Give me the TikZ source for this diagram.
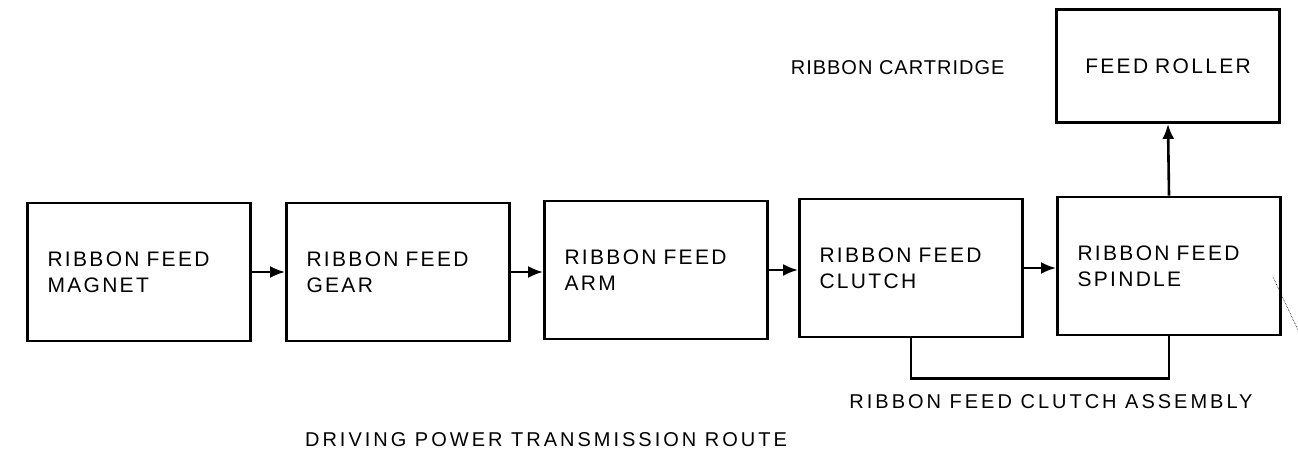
\documentclass[tikz,border=0pt]{standalone}
\usepackage{fontspec}
\setmainfont{Liberation Sans}
\newfontfamily\unitfont[LetterSpace=11]{Liberation Sans}
\newfontfamily\captionfont[LetterSpace=15]{Liberation Sans}
\newfontfamily\narrowfont[LetterSpace=5]{Liberation Sans}
\usetikzlibrary{arrows.meta}
\begin{document}
\begin{tikzpicture}[x=1pt,y=-1pt,
  unit/.style={draw,line width=2.8pt,minimum width=223pt,minimum height=138pt,
    text width=183pt,align=left,font=\unitfont\fontsize{21}{26}\selectfont},
  feed/.style={line width=2.6pt,-{Latex[length=15pt,width=12pt]}},
  link/.style={line width=2.6pt},
  caption/.style={font=\captionfont\fontsize{20}{24}\selectfont}]
\useasboundingbox (0,0) rectangle (1298,452);
\node[unit] (magnet) at (139,272) {RIBBON FEED\\MAGNET};
\node[unit] (gear) at (398,272) {RIBBON FEED\\GEAR};
\node[unit] (arm) at (656,270) {RIBBON FEED\\ARM};
\node[unit] (clutch) at (911,268) {RIBBON FEED\\CLUTCH};
\node[unit] (spindle) at (1169,266) {RIBBON FEED\\SPINDLE};
\node[unit,minimum height=113pt,align=center] (roller) at (1168,66) {FEED ROLLER};
\draw[feed] (magnet.east) -- (gear.west);
\draw[feed] (gear.east) -- (gear.east -| arm.west);
\draw[feed] (arm.east) -- (arm.east -| clutch.west);
\draw[feed] (clutch.east) -- (clutch.east -| spindle.west);
\draw[feed] (spindle.north) -- (roller.south);
\draw[link] (clutch.south) -- ++(0,40) -| (spindle.south);
\node[caption,font=\narrowfont\fontsize{20}{24}\selectfont,anchor=east] (cartridge) at (1008,68) {RIBBON CARTRIDGE};
\node[caption] (assembly) at (1051,402) {RIBBON FEED CLUTCH ASSEMBLY};
\node[caption] (route) at (546,440) {DRIVING POWER TRANSMISSION ROUTE};
\draw[densely dotted,line width=0.6pt] (1273,277) -- (1298,330);
\end{tikzpicture}
\end{document}
